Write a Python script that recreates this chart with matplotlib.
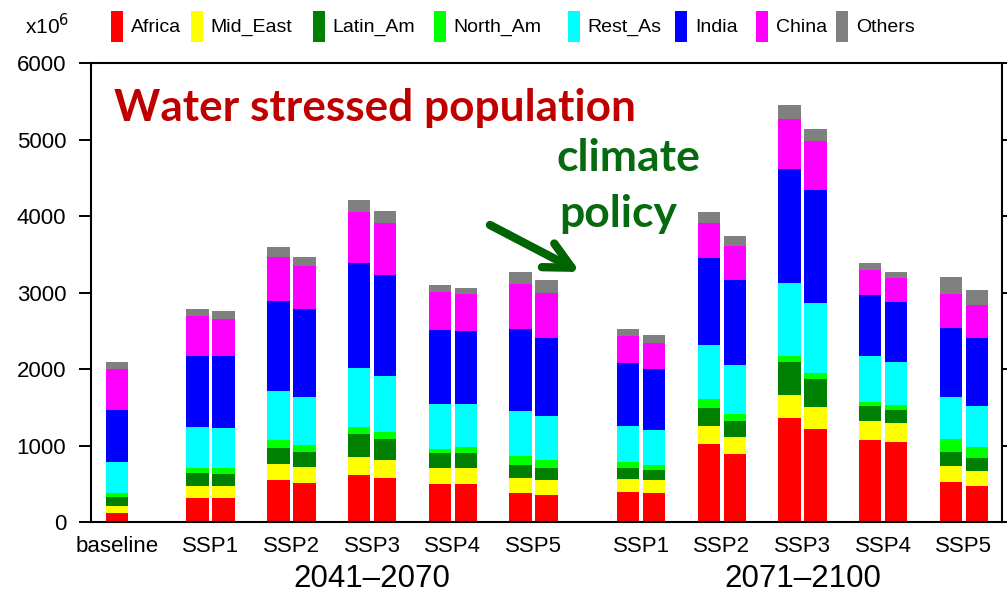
import matplotlib
matplotlib.use("Agg")
import matplotlib.pyplot as plt
from matplotlib.patches import Rectangle
import numpy as np

# ---------------- data (million people) ----------------
regions = ["Africa", "Mid_East", "Latin_Am", "North_Am", "Rest_As", "India", "China", "Others"]
colors = ["#FF0000", "#FFFF00", "#008000", "#00FF00", "#00FFFF", "#0000FF", "#FF00FF", "#808080"]

group_labels = ["baseline", "SSP1", "SSP2", "SSP3", "SSP4", "SSP5",
                "SSP1", "SSP2", "SSP3", "SSP4", "SSP5"]
period_labels = ["2041\u20132070", "2071\u20132100"]

# bar order: baseline, then for each SSP (2041-2070, 2071-2100): no policy, climate policy
africa   = [115, 315, 315, 555, 515, 615, 570, 500, 500, 385, 355,
            395, 385, 1020, 890, 1360, 1215, 1075, 1045, 525, 470]
mid_east = [100, 160, 160, 205, 200, 235, 245, 210, 210, 185, 195,
            170, 160, 230, 220, 300, 290, 250, 250, 210, 195]
latin_am = [110, 165, 150, 210, 205, 295, 275, 190, 190, 170, 150,
            140, 130, 235, 215, 435, 370, 190, 175, 185, 170]
north_am = [55, 70, 85, 100, 90, 95, 85, 55, 75, 125, 105,
            80, 70, 125, 90, 70, 70, 60, 55, 165, 145]
rest_as  = [405, 530, 515, 640, 625, 775, 740, 595, 575, 585, 575,
            470, 460, 705, 635, 965, 925, 590, 570, 550, 535]
india    = [680, 935, 940, 1180, 1150, 1370, 1310, 965, 945, 1070, 1025,
            820, 790, 1140, 1115, 1490, 1475, 800, 785, 905, 895]
china    = [530, 520, 490, 580, 560, 670, 680, 495, 485, 595, 595,
            355, 350, 455, 445, 650, 635, 330, 315, 445, 430]
others   = [95, 95, 105, 125, 115, 155, 165, 95, 85, 155, 160,
            95, 95, 150, 130, 180, 160, 90, 70, 220, 190]

series = [africa, mid_east, latin_am, north_am, rest_as, india, china, others]

# ---------------- layout ----------------
W, H = 1007, 593
fig = plt.figure(figsize=(W / 100, H / 100), dpi=100)
ax = fig.add_axes([90.7 / W, (H - 522) / H, (1002 - 90.7) / W, (522 - 63.3) / H])

font = "Liberation Sans"

# group centres (slot units); the second period is shifted by 1/3 slot
centres = np.array([0, 1, 2, 3, 4, 5, 6.333, 7.333, 8.333, 9.333, 10.333])
half = 0.161
bw = 0.279
xpos = [centres[0] - half]
for c in centres[1:]:
    xpos += [c - half, c + half]
xpos = np.array(xpos)

bottom = np.zeros(len(xpos))
for vals, col in zip(series, colors):
    v = np.array(vals, dtype=float)
    ax.bar(xpos, v, bw, bottom=bottom, color=col, edgecolor="none", linewidth=0)
    bottom += v

ax.set_xlim(-0.487, 10.805)
ax.set_ylim(0, 6000)
ax.set_yticks(np.arange(0, 6001, 1000))
# the baseline label sits under its single bar
ax.set_xticks([centres[0] - half] + list(centres[1:]))
ax.set_xticklabels(group_labels, fontsize=16, family=font)
ax.tick_params(axis="x", length=0, pad=10)
for t in ax.get_yticklabels():
    t.set_fontsize(16)
    t.set_family(font)
ax.tick_params(axis="y", which="major", direction="out", length=8.6, width=1.4,
               pad=9, left=True, right=True, labelsize=16)
for s in ax.spines.values():
    s.set_linewidth(1.5)

# period labels
ax.text(np.mean(centres[1:6]), -0.125, period_labels[0], transform=ax.get_xaxis_transform(),
        ha="center", va="center", fontsize=22.5, family=font)
ax.text(np.mean(centres[6:11]), -0.125, period_labels[1], transform=ax.get_xaxis_transform(),
        ha="center", va="center", fontsize=22.5, family=font)

# ---------------- legend (top row) ----------------
fig.text(25 / W, 1 - 26 / H, "x10$^6$", fontsize=15, family=font, va="center", ha="left")
patch_x = [110.5, 190.7, 312.8, 433.5, 567.7, 675, 756, 836]
for px, col, name in zip(patch_x, colors, regions):
    fig.add_artist(Rectangle((px / W, 1 - 42 / H), 12 / W, 31 / H,
                             transform=fig.transFigure, facecolor=col, edgecolor="none"))
    fig.text((px + 20) / W, 1 - 27 / H, name, fontsize=14, family=font,
             va="center", ha="left")

# ---------------- annotations ----------------
green = "#086A10"
fig.text(114 / W, 1 - 121.5 / H, "Water stressed population", color="#C00000",
         fontsize=31.8, fontweight="bold", family="Lato", va="baseline", ha="left")
fig.text(557 / W, 1 - 171.5 / H, "climate", color=green,
         fontsize=32, fontweight="bold", family="Lato", va="baseline", ha="left")
fig.text(559 / W, 1 - 226.5 / H, "policy", color=green,
         fontsize=32, fontweight="bold", family="Lato", va="baseline", ha="left")
ax.annotate("", xy=(580, H - 272), xycoords="figure pixels",
            xytext=(490, H - 225), textcoords="figure pixels",
            arrowprops=dict(arrowstyle="->", lw=6, color="#006400",
                            mutation_scale=48, shrinkA=0, shrinkB=0))

fig.savefig("out.png", dpi=100)
